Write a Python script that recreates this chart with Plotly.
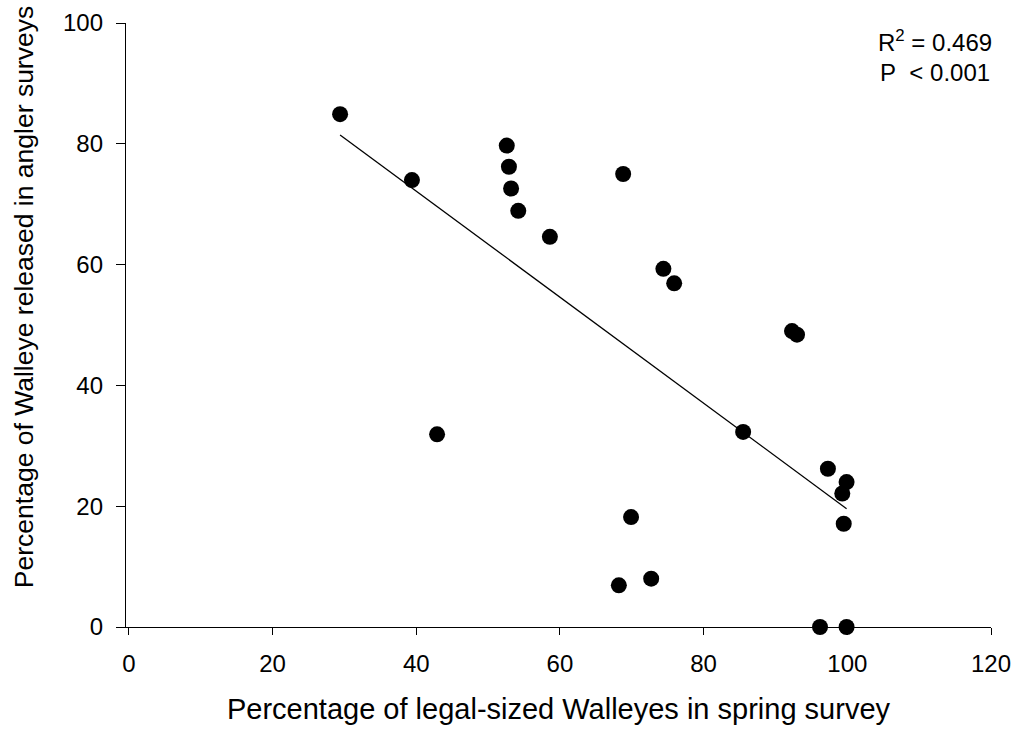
import numpy as np
import plotly.graph_objects as go

# Percentage of legal-sized walleyes in the spring survey (x)
legal_pct = [29.4, 39.4, 42.9, 52.6, 52.9, 53.2, 54.2, 58.6, 68.8, 74.4, 75.9,
             69.9, 68.2, 72.7, 85.5, 92.3, 93.0, 97.3, 99.9, 99.3, 99.5, 96.2, 99.9]
# Percentage of walleye released in angler surveys (y)
released_pct = [84.9, 74.0, 31.9, 79.7, 76.2, 72.6, 68.9, 64.6, 75.0, 59.3, 56.9,
                18.2, 6.9, 8.0, 32.3, 49.0, 48.4, 26.2, 24.0, 22.1, 17.1, 0.0, 0.0]

x_ticks = [0, 20, 40, 60, 80, 100, 120]
y_ticks = [0, 20, 40, 60, 80, 100]

x_title = "Percentage of legal-sized Walleyes in spring survey"
y_title = "Percentage of Walleye released in angler surveys"
r2_text = "R<sup>2</sup> = 0.469"
p_text = "P\u00a0\u00a0< 0.001"

# least-squares fit drawn across the observed range
slope, intercept = np.polyfit(legal_pct, released_pct, 1)
fit_x = [min(legal_pct), max(legal_pct)]
fit_y = [slope * v + intercept for v in fit_x]

FONT = "Liberation Sans, Arial, sans-serif"

fig = go.Figure()
fig.add_trace(go.Scatter(
    x=fit_x, y=fit_y, mode="lines",
    line=dict(color="black", width=1.3), showlegend=False, hoverinfo="skip"))
fig.add_trace(go.Scatter(
    x=legal_pct, y=released_pct, mode="markers",
    marker=dict(color="black", size=16), showlegend=False, cliponaxis=False))

axis_common = dict(
    showgrid=False, zeroline=False, showline=True, linecolor="black",
    linewidth=1.3, ticks="outside", tickcolor="black", tickwidth=1.3,
    automargin=False, ticklabelstandoff=8,
    tickfont=dict(family=FONT, size=24, color="black"))

fig.update_xaxes(
    range=[-0.4, 120], tickvals=x_ticks, ticklen=7,
    title=dict(text=x_title,
               font=dict(family=FONT, size=29, color="black"), standoff=22),
    **axis_common)
fig.update_yaxes(range=[0, 100], tickvals=y_ticks, ticklen=9, **axis_common)

# vertical axis title, placed as rotated text left of the tick labels
fig.add_annotation(text=y_title, xref="paper", yref="paper", x=-0.118, y=0.546,
                   xanchor="center", yanchor="middle", textangle=-90,
                   showarrow=False,
                   font=dict(family=FONT, size=26.5, color="black"))

fig.add_annotation(text=r2_text, xref="paper", yref="paper", x=1.003, y=0.971,
                   xanchor="right", yanchor="middle", showarrow=False,
                   font=dict(family=FONT, size=24, color="black"))
fig.add_annotation(text=p_text, xref="paper", yref="paper", x=1.001, y=0.918,
                   xanchor="right", yanchor="middle", showarrow=False,
                   font=dict(family=FONT, size=24, color="black"))

fig.update_layout(
    width=1016, height=734,
    margin=dict(l=126, r=25, t=23, b=107),
    paper_bgcolor="white", plot_bgcolor="white",
    font=dict(family=FONT, color="black"))

fig.write_html("out.html")
